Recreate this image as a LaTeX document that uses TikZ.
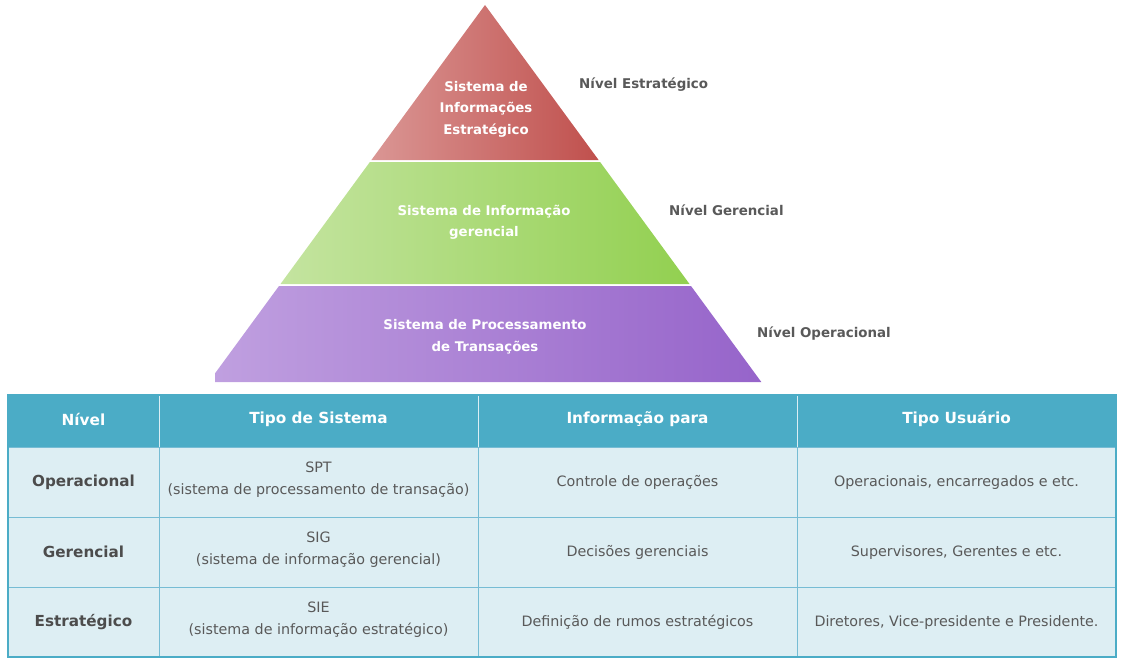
\documentclass[tikz,border=0pt]{standalone}
\usepackage{fontspec}
\setmainfont{DejaVu Sans}
\usepackage{tikz}
\definecolor{redL}{RGB}{218,150,148}
\definecolor{redR}{RGB}{192,80,77}
\definecolor{grnL}{RGB}{196,228,160}
\definecolor{grnR}{RGB}{146,208,80}
\definecolor{purL}{RGB}{192,160,224}
\definecolor{purR}{RGB}{150,100,202}
\definecolor{headc}{RGB}{75,172,198}
\definecolor{cellc}{RGB}{221,238,243}
\definecolor{linec}{RGB}{118,188,212}
\definecolor{txtc}{RGB}{89,89,89}

\begin{document}
\begin{tikzpicture}[x=1pt,y=-1pt,
  layertxt/.style={font=\fontsize{13.3}{21.5}\selectfont\bfseries,text=white,align=center},
  lvltxt/.style={font=\fontsize{13.4}{17}\selectfont\bfseries,text=txtc,anchor=west,inner sep=0pt},
  headtxt/.style={font=\fontsize{15.3}{18}\selectfont\bfseries,text=white},
  rowtxt/.style={font=\fontsize{15.2}{19}\selectfont\bfseries,text=txtc!85!black},
  celltxt/.style={font=\fontsize{14.3}{22}\selectfont,text=txtc,align=center}]
\useasboundingbox (0,0) rectangle (1129,666);

% pyramid, cut off on the left like the original
\begin{scope}
  \clip (215,0) rectangle (1129,382);
  \shade[left color=redL,right color=redR] (485,5) -- (598.6,160) -- (371.4,160) -- cycle;
  \shade[left color=grnL,right color=grnR] (369.9,162) -- (600.1,162) -- (689.5,284) -- (280.5,284) -- cycle;
  \shade[left color=purL,right color=purR] (279,286) -- (691,286) -- (761.3,382) -- (208.7,382) -- cycle;
\end{scope}

\node[layertxt] (sie) at (486,109) {Sistema de\\Informações\\Estratégico};
\node[layertxt] (sig) at (484,222.5) {Sistema de Informação\\gerencial};
\node[layertxt] (spt) at (485,336.5) {Sistema de Processamento\\de Transações};

\node[lvltxt] (lvlE) at (579,84.5) {Nível Estratégico};
\node[lvltxt] (lvlG) at (669,210.5) {Nível Gerencial};
\node[lvltxt] (lvlO) at (757,333.5) {Nível Operacional};

% table
\fill[headc] (8,395) rectangle (1116,447);
\fill[cellc] (8,447) rectangle (1116,657);
\foreach \y in {447,517,587}
  \draw[linec] (8,\y) -- (1116,\y);
\foreach \x in {159,478,797} {
  \draw[white!80!headc] (\x,395) -- (\x,447);
  \draw[linec] (\x,447) -- (\x,657);
}
\draw[headc,line width=1.2pt] (8,395) rectangle (1116,657);

\node[headtxt] (hNivel) at (83.5,419) {Nível};
\node[headtxt] (hTipo) at (318.5,419) {Tipo de Sistema};
\node[headtxt] (hInfo) at (637.5,419) {Informação para};
\node[headtxt] (hUser) at (956.5,419) {Tipo Usuário};

\foreach \r/\yc/\lvl/\sys/\info/\usr in {
  1/482/Operacional/{SPT\\(sistema de processamento de transação)}/{Controle de operações}/{Operacionais, encarregados e etc.},
  2/552/Gerencial/{SIG\\(sistema de informação gerencial)}/{Decisões gerenciais}/{Supervisores, Gerentes e etc.},
  3/622/Estratégico/{SIE\\(sistema de informação estratégico)}/{Definição de rumos estratégicos}/{Diretores, Vice-presidente e Presidente.}} {
  \node[rowtxt] (lvl\r) at (83.5,\yc) {\lvl};
  \node[celltxt] (sys\r) at (318.5,\yc-2) {\sys};
  \node[celltxt] (info\r) at (637.5,\yc+0.5) {\info};
  \node[celltxt] (usr\r) at (956.5,\yc+0.5) {\usr};
}
\end{tikzpicture}
\end{document}
